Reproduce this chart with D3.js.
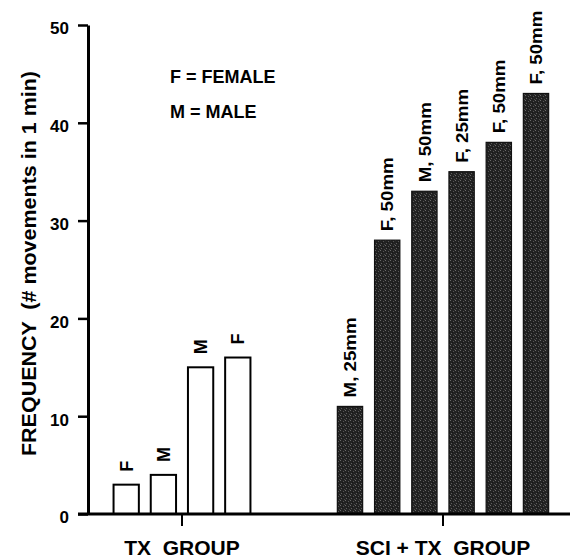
<!DOCTYPE html>
<html><head><meta charset="utf-8">
<script src="https://cdn.jsdelivr.net/npm/d3@7"></script>
<style>body{margin:0;background:#fff} svg{display:block} text{white-space:pre}</style>
</head><body>
<svg id="chart" width="578" height="558"></svg>
<script>
// ---- data ----
const groups = ["TX  GROUP", "SCI + TX  GROUP"];
const txLabels = ["F", "M", "M", "F"];
const txValues = [3, 4, 15, 16];
const sciLabels = ["M, 25mm", "F, 50mm", "M, 50mm", "F, 25mm", "F, 50mm", "F, 50mm"];
const sciValues = [11, 28, 33, 35, 38, 43];
const yTicks = [0, 10, 20, 30, 40, 50];
const legendLines = ["F = FEMALE", "M = MALE"];
const yTitle = "FREQUENCY  (# movements in 1 min)";

const FONT = "'Liberation Sans', Arial, Helvetica, sans-serif";
const svg = d3.select("#chart");

// defs: dithered dark fill (irregular speckle)
const defs = svg.append("defs");
const pat = defs.append("pattern").attr("id", "dither").attr("patternUnits", "userSpaceOnUse")
  .attr("width", 5).attr("height", 5);
pat.append("rect").attr("width", 5).attr("height", 5).attr("fill", "#222");
const speckles = [[0, 0, "#6a6a6a"], [3, 1, "#555"], [1, 3, "#5e5e5e"], [4, 4, "#4a4a4a"], [2, 2, "#161616"]];
speckles.forEach(([sx, sy, c]) => pat.append("rect").attr("x", sx).attr("y", sy)
  .attr("width", 1).attr("height", 1).attr("fill", c));

// scales
const y = d3.scaleLinear().domain([0, 50]).range([514, 25]);
const axisX = 88;
const xGroup = d3.scaleBand().domain(groups).range([51.5, 573.5]).padding(0);
const step = 37.2;
function inner(n, g) {
  const c = xGroup(g) + xGroup.bandwidth() / 2;
  return d3.scaleBand().domain(d3.range(n)).range([c - n * step / 2, c + n * step / 2])
    .paddingInner(0.32).paddingOuter(0.16);
}
const xTx = inner(txValues.length, groups[0]);
const xSci = inner(sciValues.length, groups[1]);

// bars
const txData = txValues.map((v, i) => ({ v, i, label: txLabels[i] }));
const sciData = sciValues.map((v, i) => ({ v, i, label: sciLabels[i] }));

svg.append("g").selectAll("rect").data(txData).join("rect")
  .attr("x", d => xTx(d.i)).attr("width", xTx.bandwidth())
  .attr("y", d => y(d.v)).attr("height", d => y(0) - y(d.v))
  .attr("fill", "#fff").attr("stroke", "#000").attr("stroke-width", 2);

svg.append("g").selectAll("rect").data(sciData).join("rect")
  .attr("x", d => xSci(d.i)).attr("width", xSci.bandwidth())
  .attr("y", d => y(d.v)).attr("height", d => y(0) - y(d.v))
  .attr("fill", "url(#dither)").attr("stroke", "#111").attr("stroke-width", 1.2);

// bar labels
svg.append("g").selectAll("text").data(txData).join("text")
  .attr("transform", d => `translate(${xTx(d.i) + xTx.bandwidth() / 2},${y(d.v) - 13}) rotate(-90)`)
  .attr("dy", "0.36em").attr("text-anchor", "start")
  .style("font-family", FONT).style("font-weight", "bold").style("font-size", "18px")
  .text(d => d.label);

const sciText = svg.append("g").selectAll("text").data(sciData).join("text")
  .attr("transform", d => `translate(${xSci(d.i) + xSci.bandwidth() / 2},${y(d.v) - 9}) rotate(-90)`)
  .attr("dy", "0.36em").attr("text-anchor", "start")
  .style("font-family", FONT).style("font-weight", "bold").style("font-size", "17px")
  .text(d => d.label);
sciText.each(function () {
  const L = this.getComputedTextLength();
  d3.select(this).attr("textLength", L * 1.1).attr("lengthAdjust", "spacingAndGlyphs");
});

// y axis
const yAxis = svg.append("g").attr("transform", `translate(${axisX},0)`)
  .call(d3.axisLeft(y).tickValues(yTicks).tickSize(10).tickSizeOuter(0).tickPadding(9));
yAxis.select(".domain").attr("stroke", "#000").attr("stroke-width", 3);
yAxis.selectAll(".tick line").attr("stroke", "#000").attr("stroke-width", 2.5);
yAxis.selectAll(".tick text").attr("dy", "0.52em")
  .style("font-family", FONT).style("font-weight", "bold").style("font-size", "17px").attr("fill", "#000");

// x axis
const xAxis = svg.append("g").attr("transform", `translate(0,${y(0)})`)
  .call(d3.axisBottom(xGroup).tickSize(12).tickSizeOuter(0));
xAxis.select(".domain").remove();
xAxis.selectAll(".tick line").attr("stroke", "#000").attr("stroke-width", 2);
xAxis.selectAll(".tick text").attr("y", 41).attr("dy", 0)
  .style("font-family", FONT).style("font-weight", "bold").style("font-size", "21px").attr("fill", "#000");
svg.append("line")
  .attr("x1", axisX - 10).attr("x2", 570).attr("y1", y(0)).attr("y2", y(0))
  .attr("stroke", "#000").attr("stroke-width", 3);

// y title
svg.append("text")
  .attr("transform", `translate(36,${(y(0) + y(50)) / 2 - 6}) rotate(-90)`)
  .attr("text-anchor", "middle")
  .attr("textLength", 385).attr("lengthAdjust", "spacingAndGlyphs")
  .style("font-family", FONT).style("font-weight", "bold").style("font-size", "20px")
  .text(yTitle);

// legend
svg.append("g").selectAll("text").data(legendLines).join("text")
  .attr("x", 170).attr("y", (d, i) => 83.3 + i * 34.4)
  .style("font-family", FONT).style("font-weight", "bold").style("font-size", "18px")
  .text(d => d);
</script>
</body></html>
